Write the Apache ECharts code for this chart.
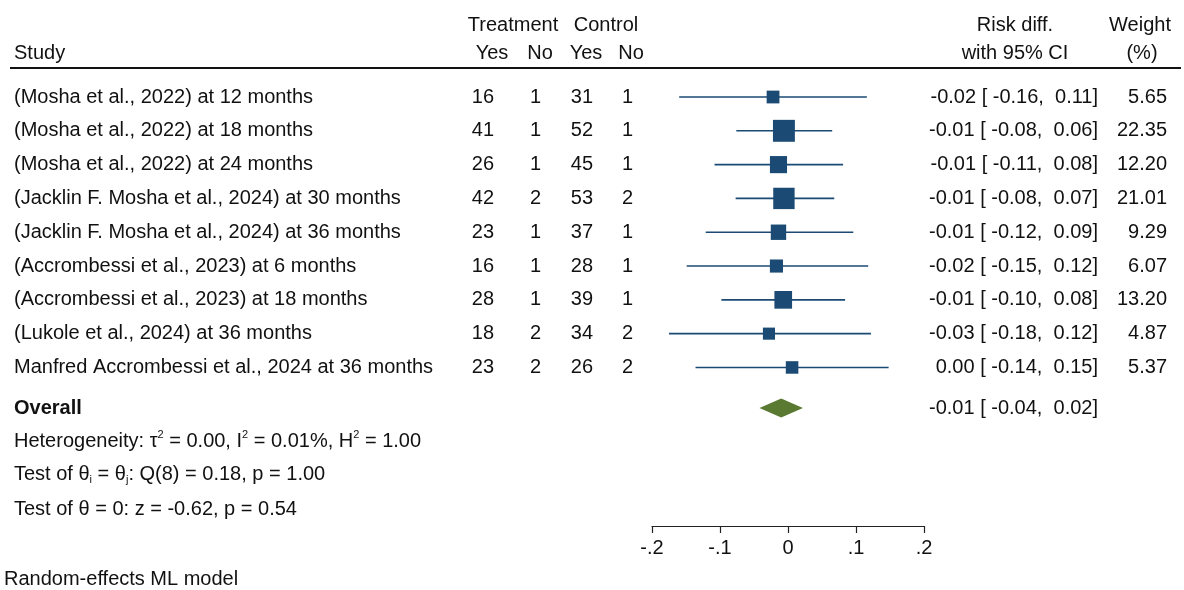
<!DOCTYPE html>
<html>
<head>
<meta charset="utf-8">
<script src="https://cdn.jsdelivr.net/npm/echarts@6/dist/echarts.min.js"></script>
<style>
html, body { margin: 0; padding: 0; background: #fff; }
#main { width: 1184px; height: 590px; }
</style>
</head>
<body>
<div id="main"></div>
<script>
// studies
var studies = [
	'(Mosha et al., 2022) at 12 months',
	'(Mosha et al., 2022) at 18 months',
	'(Mosha et al., 2022) at 24 months',
	'(Jacklin F. Mosha et al., 2024) at 30 months',
	'(Jacklin F. Mosha et al., 2024) at 36 months',
	'(Accrombessi et al., 2023) at 6 months',
	'(Accrombessi et al., 2023) at 18 months',
	'(Lukole et al., 2024) at 36 months',
	'Manfred Accrombessi et al., 2024 at 36 months'
];
var treatYes = [16, 41, 26, 42, 23, 16, 28, 18, 23];
var treatNo = [1, 1, 1, 2, 1, 1, 1, 2, 2];
var ctrlYes = [31, 52, 45, 53, 37, 28, 39, 34, 26];
var ctrlNo = [1, 1, 1, 2, 1, 1, 1, 2, 2];
// risk diff and CI
var rdEst = [-0.022, -0.006, -0.014, -0.006, -0.014, -0.017, -0.007, -0.028, 0.006];
var rdLow = [-0.160, -0.076, -0.108, -0.077, -0.121, -0.149, -0.098, -0.175, -0.136];
var rdHigh = [0.116, 0.065, 0.081, 0.068, 0.096, 0.118, 0.084, 0.122, 0.148];
var weights = [5.65, 22.35, 12.20, 21.01, 9.29, 6.07, 13.20, 4.87, 5.37];
var ciText = [
	'-0.02 [ -0.16,  0.11]',
	'-0.01 [ -0.08,  0.06]',
	'-0.01 [ -0.11,  0.08]',
	'-0.01 [ -0.08,  0.07]',
	'-0.01 [ -0.12,  0.09]',
	'-0.02 [ -0.15,  0.12]',
	'-0.01 [ -0.10,  0.08]',
	'-0.03 [ -0.18,  0.12]',
	' 0.00 [ -0.14,  0.15]'
];
var weightText = ['5.65', '22.35', '12.20', '21.01', '9.29', '6.07', '13.20', '4.87', '5.37'];
var overall = { est: -0.010, low: -0.042, high: 0.022, text: '-0.01 [ -0.04,  0.02]' };
var overallRow = 9.2;
var xTicks = [-0.2, -0.1, 0, 0.1, 0.2];
var xTickLabels = ['-.2', '-.1', '0', '.1', '.2'];

var FONT = '"Liberation Sans", Arial, sans-serif';
var FS = 20;
var BLUE = '#1b4a74';
var GREEN = '#5a7a32';

var myChart = echarts.init(document.getElementById('main'));

var studyData = [];
for (var i = 0; i < studies.length; i++) {
	studyData.push([i, rdEst[i], rdLow[i], rdHigh[i], weights[i]]);
}

var option = {
	backgroundColor: '#fff',
	animation: false,
	grid: { left: 652, width: 272, top: 63.2, bottom: 64 },
	xAxis: {
		type: 'value', min: -0.2, max: 0.2, interval: 0.1, position: 'bottom',
		axisLine: { show: true, onZero: false, lineStyle: { color: '#222', width: 1.2 } },
		axisTick: { show: true, length: 7, lineStyle: { color: '#222', width: 1.2 } },
		axisLabel: {
			color: '#111', fontSize: FS, fontFamily: FONT, margin: 12,
			formatter: function(v) {
				for (var k = 0; k < xTicks.length; k++) {
					if (Math.abs(v - xTicks[k]) < 1e-9) return xTickLabels[k];
				}
				return '';
			}
		},
		splitLine: { show: false }
	},
	yAxis: {
		type: 'value', min: -1, max: 12.69, inverse: true, show: false
	},
	series: [{
		type: 'custom',
		clip: false,
		data: studyData,
		renderItem: function(params, api) {
			var row = api.value(0);
			var c = api.coord([api.value(1), row]);
			var l = api.coord([api.value(2), row]);
			var h = api.coord([api.value(3), row]);
			var s = 3.9 * Math.sqrt(api.value(4)) + 3.5;
			return {
				type: 'group',
				children: [{
					type: 'line',
					shape: { x1: l[0], y1: l[1], x2: h[0], y2: h[1] },
					style: { stroke: BLUE, lineWidth: 1.6 }
				}, {
					type: 'rect',
					shape: { x: c[0] - s / 2, y: c[1] - s / 2, width: s, height: s },
					style: { fill: BLUE }
				}]
			};
		}
	}, {
		type: 'custom',
		clip: false,
		data: [[overallRow, overall.est, overall.low, overall.high]],
		renderItem: function(params, api) {
			var row = api.value(0);
			var c = api.coord([api.value(1), row]);
			var l = api.coord([api.value(2), row]);
			var h = api.coord([api.value(3), row]);
			return {
				type: 'polygon',
				shape: { points: [[l[0], l[1]], [c[0], c[1] - 9.5], [h[0], h[1]], [c[0], c[1] + 9.5]] },
				style: { fill: GREEN }
			};
		}
	}]
};
myChart.setOption(option);

// table text, y taken from the row axis
function rowY(r) {
	return myChart.convertToPixel({ yAxisIndex: 0 }, r);
}
function txt(str, x, y, align, extra) {
	var st = {
		text: str, x: x, y: y, fill: '#111',
		fontSize: FS, fontFamily: FONT,
		textAlign: align || 'left', textVerticalAlign: 'middle'
	};
	if (extra) {
		for (var k in extra) st[k] = extra[k];
	}
	return { type: 'text', silent: true, style: st };
}

var g = [];
// headers
g.push(txt('Treatment', 513, 25, 'center'));
g.push(txt('Control', 606, 25, 'center'));
g.push(txt('Study', 14, 53));
g.push(txt('Yes', 492, 53, 'center'));
g.push(txt('No', 540, 53, 'center'));
g.push(txt('Yes', 586, 53, 'center'));
g.push(txt('No', 631, 53, 'center'));
g.push(txt('Risk diff.', 1015, 25, 'center'));
g.push(txt('with 95% CI', 1015, 53, 'center'));
g.push(txt('Weight', 1140, 25, 'center'));
g.push(txt('(%)', 1142, 53, 'center'));
g.push({
	type: 'line', silent: true,
	shape: { x1: 10, y1: 68, x2: 1181, y2: 68 },
	style: { stroke: '#111', lineWidth: 2 }
});

for (var i = 0; i < studies.length; i++) {
	var y = rowY(i);
	g.push(txt(studies[i], 14, y));
	g.push(txt(String(treatYes[i]), 494, y, 'right'));
	g.push(txt(String(treatNo[i]), 541, y, 'right'));
	g.push(txt(String(ctrlYes[i]), 593, y, 'right'));
	g.push(txt(String(ctrlNo[i]), 633, y, 'right'));
	g.push(txt(ciText[i], 1098, y, 'right'));
	g.push(txt(weightText[i], 1167, y, 'right'));
}
var oy = rowY(overallRow);
g.push(txt('Overall', 14, oy, 'left', { fontWeight: 'bold' }));
g.push(txt(overall.text, 1098, oy, 'right'));

var supStyle = { fontSize: 11, fontFamily: FONT, fill: '#111', padding: [0, 0, 12, 0] };
var subStyle = { fontSize: 11, fontFamily: FONT, fill: '#111', padding: [10, 0, 0, 0] };
g.push(txt('Heterogeneity: τ{s|2} = 0.00, I{s|2} = 0.01%, H{s|2} = 1.00', 14, rowY(10.18), 'left',
	{ rich: { s: supStyle } }));
g.push(txt('Test of θ{b|i} = θ{b|j}: Q(8) = 0.18, p = 1.00', 14, rowY(11.18), 'left',
	{ rich: { b: subStyle } }));
g.push(txt('Test of θ = 0: z = -0.62, p = 0.54', 14, rowY(12.19), 'left'));
g.push(txt('Random-effects ML model', 4, 579, 'left'));

myChart.setOption({ graphic: g });
</script>
</body>
</html>
